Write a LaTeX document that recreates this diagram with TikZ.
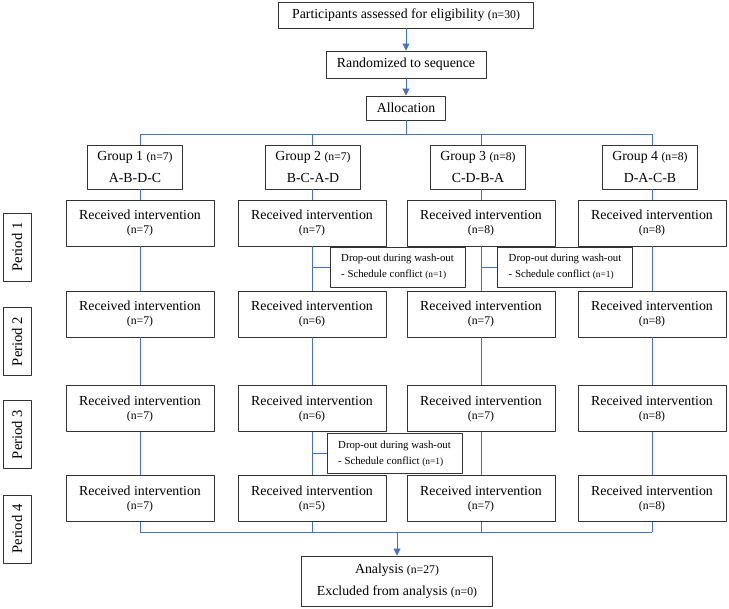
\documentclass[tikz,border=0pt]{standalone}
\usepackage{fontspec}
\setmainfont{Liberation Serif}
\usetikzlibrary{arrows.meta}
\definecolor{linkblue}{RGB}{68,114,196}
\newcommand{\ncount}[1]{{\fontsize{10}{10}\selectfont #1}}
\newcommand{\dcount}[1]{{\fontsize{8}{8}\selectfont #1}}

\begin{document}
\begin{tikzpicture}[x=0.03cm,y=-0.03cm,join=round] % crossover flow, coordinates in px
  \tikzset{
    box/.style={draw=black!80,line width=0.8pt,fill=white,align=center,inner sep=0pt,font=\fontsize{11.8}{12}\selectfont},
    recv/.style={box,minimum width=4.44cm,minimum height=1.38cm},
    grp/.style={box,minimum width=2.85cm,minimum height=1.32cm},
    drop/.style={box,align=left,minimum width=4.05cm,minimum height=1.2cm,font=\fontsize{9.2}{13.6}\selectfont},
    prd/.style={box,rotate=90,minimum width=2.04cm,minimum height=0.84cm,font=\fontsize{12.5}{14}\selectfont},
    link/.style={draw=linkblue,line width=0.75pt},
    flow/.style={link,-{Triangle[width=6pt,length=6pt]}}
  }
  \useasboundingbox (0,0) rectangle (729,608);
        \node[box,minimum width=7.65cm,minimum height=0.78cm] (elig) at (406,15) {Participants assessed for eligibility \ncount{(n=30)}};
        \node[box,minimum width=4.8cm,minimum height=0.81cm] (rand) at (406,64.5) {Randomized to sequence};
        \node[box,minimum width=2.37cm,minimum height=0.72cm] (alloc) at (406,108) {Allocation};
        \node[grp] (g1) at (135,167) {Group 1 \ncount{(n=7)}\\[6.5pt]A-B-D-C};
        \node[grp] (g2) at (313,167) {Group 2 \ncount{(n=7)}\\[6.5pt]B-C-A-D};
        \node[grp] (g3) at (478,167) {Group 3 \ncount{(n=8)}\\[6.5pt]C-D-B-A};
        \node[grp] (g4) at (650,167) {Group 4 \ncount{(n=8)}\\[6.5pt]D-A-C-B};
        \node[prd] (p1) at (17,247) {Period 1};
        \node[prd] (p2) at (17,341.5) {Period 2};
        \node[prd] (p3) at (17,434.5) {Period 3};
        \node[prd] (p4) at (17,529) {Period 4};
        % period 1
        \node[recv] (r11) at (140,223) {Received intervention\\\ncount{(n=7)}};
        \node[recv] (r12) at (312,223) {Received intervention\\\ncount{(n=7)}};
        \node[recv] (r13) at (481,223) {Received intervention\\\ncount{(n=8)}};
        \node[recv] (r14) at (652,223) {Received intervention\\\ncount{(n=8)}};
        % period 2
        \node[recv] (r21) at (140,314) {Received intervention\\\ncount{(n=7)}};
        \node[recv] (r22) at (312,314) {Received intervention\\\ncount{(n=6)}};
        \node[recv] (r23) at (481,314) {Received intervention\\\ncount{(n=7)}};
        \node[recv] (r24) at (652,314) {Received intervention\\\ncount{(n=8)}};
        % period 3
        \node[recv] (r31) at (140,408.5) {Received intervention\\\ncount{(n=7)}};
        \node[recv] (r32) at (312,408.5) {Received intervention\\\ncount{(n=6)}};
        \node[recv] (r33) at (481,408.5) {Received intervention\\\ncount{(n=7)}};
        \node[recv] (r34) at (652,408.5) {Received intervention\\\ncount{(n=8)}};
        % period 4
        \node[recv] (r41) at (140,498.5) {Received intervention\\\ncount{(n=7)}};
        \node[recv] (r42) at (312,498.5) {Received intervention\\\ncount{(n=5)}};
        \node[recv] (r43) at (481,498.5) {Received intervention\\\ncount{(n=7)}};
        \node[recv] (r44) at (652,498.5) {Received intervention\\\ncount{(n=8)}};
        \node[drop] (d1) at (397.5,267) {Drop-out during wash-out\\- Schedule conflict \dcount{(n=1)}};
        \node[drop] (d2) at (565,267) {Drop-out during wash-out\\- Schedule conflict \dcount{(n=1)}};
        \node[drop] (d3) at (394.5,453.5) {Drop-out during wash-out\\- Schedule conflict \dcount{(n=1)}};
        \node[box,minimum width=5.73cm,minimum height=1.5cm] (ana) at (397,581) {Analysis \ncount{(n=27)}\\[6.5pt]Excluded from analysis \ncount{(n=0)}};
        \coordinate (split) at (406,134);
        \coordinate (merge) at (397,532);
        \draw[flow] (elig.south) -- (rand.north);
        \draw[flow] (rand.south) -- (alloc.north);
        \draw[link] (alloc.south) -- (split);
        \draw[link] (split -| r11) -- (split -| r14);
        \draw[link] (split -| r11) -- (g1.north -| r11) (split -| r12) -- (g2.north -| r12)
                (split -| r13) -- (g3.north -| r13) (split -| r14) -- (g4.north -| r14);
        \draw[link] (g1.south -| r11) -- (r11.north) (r11.south) -- (r21.north) (r21.south) -- (r31.north) (r31.south) -- (r41.north) (r41.south) -- (merge -| r41);
        \draw[link] (g2.south -| r12) -- (r12.north) (r12.south) -- (r22.north) (r22.south) -- (r32.north) (r32.south) -- (r42.north) (r42.south) -- (merge -| r42);
        \draw[link] (g3.south -| r13) -- (r13.north) (r13.south) -- (r23.north) (r23.south) -- (r33.north) (r33.south) -- (r43.north) (r43.south) -- (merge -| r43);
        \draw[link] (g4.south -| r14) -- (r14.north) (r14.south) -- (r24.north) (r24.south) -- (r34.north) (r34.south) -- (r44.north) (r44.south) -- (merge -| r44);
        \draw[link] (d1.west -| r12) -- (d1.west) (d2.west -| r13) -- (d2.west) (d3.west -| r12) -- (d3.west);
        \draw[link] (merge -| r41) -- (merge -| r44);
        \draw[flow] (merge) -- (merge |- ana.north);
\end{tikzpicture}
\end{document}
